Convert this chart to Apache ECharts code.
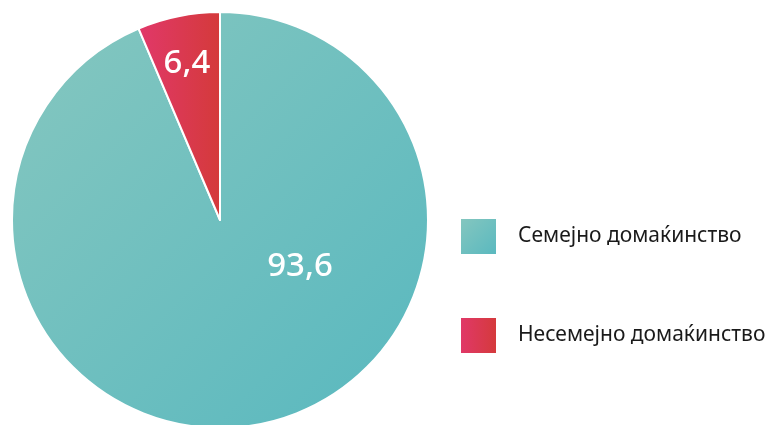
<!DOCTYPE html>
<html><head><meta charset="utf-8">
<script src="https://cdn.jsdelivr.net/npm/echarts@6/dist/echarts.min.js"></script>
<style>html,body{margin:0;padding:0;background:#fff}#c{width:770px;height:425px}</style>
</head><body><div id="c"></div>
<script>
const categories = ['Семејно домаќинство', 'Несемејно домаќинство'];
const values = [93.6, 6.4];

const G = echarts.graphic.LinearGradient;
const colors = [
  new G(0, 0, 1, 1, [{offset: 0, color: '#86c7bf'}, {offset: 1, color: '#58b8bf'}]),
  new G(0, 0, 1, 0, [{offset: 0, color: '#e1386a'}, {offset: 1, color: '#d43a3a'}])
];
const labelPos = [[300, 267], [187, 64]];

const chart = echarts.init(document.getElementById('c'), null, {renderer: 'canvas'});
chart.setOption({
  animation: false,
  legend: {
    orient: 'vertical', left: 454, top: 212,
    itemWidth: 37, itemHeight: 37, itemGap: 60,
    icon: 'rect',
    textStyle: {fontFamily: 'Noto Sans', fontSize: 21, color: '#1a1a1a', padding: [0, 0, 0, 16]},
    data: categories
  },
  series: [{
    type: 'pie',
    center: [220, 220], radius: [0, 208],
    startAngle: 90, clockwise: true,
    silent: true,
    itemStyle: {borderColor: '#fff', borderWidth: 2},
    label: {
      show: true, position: 'inside',
      formatter: p => String(p.value).replace('.', ','),
      fontFamily: 'Noto Sans', fontSize: 33, fontWeight: 500, color: '#fff'
    },
    labelLine: {show: false},
    labelLayout: p => ({x: labelPos[p.dataIndex][0], y: labelPos[p.dataIndex][1], align: 'center', verticalAlign: 'middle'}),
    data: categories.map((n, i) => ({name: n, value: values[i], itemStyle: {color: colors[i]}}))
  }]
});
</script></body></html>
